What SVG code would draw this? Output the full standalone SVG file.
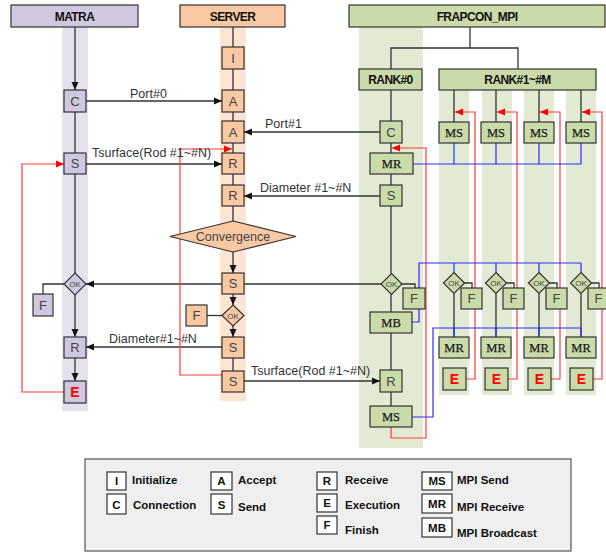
<svg xmlns="http://www.w3.org/2000/svg" width="606" height="554" viewBox="0 0 606 554">
<defs>
<marker id="ah" markerWidth="8" markerHeight="8" refX="8" refY="4" orient="auto" markerUnits="userSpaceOnUse"><path d="M0,0.5 L8,4 L0,7.5 z" fill="#111"/></marker>
<marker id="ahr" markerWidth="8" markerHeight="8" refX="8" refY="4" orient="auto" markerUnits="userSpaceOnUse"><path d="M0,0.5 L8,4 L0,7.5 z" fill="#f00"/></marker>
<style>
.ln{fill:none;stroke:#333;stroke-width:1.3}
.ar{marker-end:url(#ah)}
.rd{fill:none;stroke:#ff3a3a;stroke-width:1.2}
.ra{marker-end:url(#ahr)}
.bl{fill:none;stroke:#2a2aff;stroke-width:1.2}
.pu{fill:#cfc8de;stroke:#333;stroke-width:1.2}
.pe{fill:#f9c9a4;stroke:#333;stroke-width:1.2}
.gr{fill:#cbdaa9;stroke:#333;stroke-width:1.2}
.wb{fill:#fff;stroke:#333;stroke-width:1.2}
.t{font-family:"Liberation Sans",Arial,sans-serif;font-size:13px;fill:#444;text-anchor:middle}
.ts{font-family:"Liberation Serif","Times New Roman",serif;font-size:12.5px;font-weight:normal;fill:#1a1a1a;text-anchor:middle;stroke:#1a1a1a;stroke-width:0.25}
.h{font-family:"Liberation Sans",Arial,sans-serif;font-weight:bold;font-size:12px;letter-spacing:-0.6px;text-anchor:middle;fill:#111}
.lb{font-family:"Liberation Sans",Arial,sans-serif;font-size:12.5px;fill:#333}
.ok{font-family:"Liberation Sans",Arial,sans-serif;font-size:8px;fill:#444;text-anchor:middle}
.e{font-family:"Liberation Sans",Arial,sans-serif;fill:#f00;font-weight:bold;font-size:14px;text-anchor:middle}
.lg{font-family:"Liberation Sans",Arial,sans-serif;font-weight:bold;font-size:11.5px;fill:#111}
.lgc{font-family:"Liberation Sans",Arial,sans-serif;font-weight:bold;font-size:11.5px;fill:#111;text-anchor:middle}
</style>
</defs>

<!-- column backgrounds -->
<rect x="62" y="27" width="26" height="384" fill="#e5e2ee"/>
<rect x="220" y="27" width="26" height="374" fill="#fde4d3"/>
<rect x="359" y="27" width="64" height="421" fill="#e3ead3"/>
<rect x="439" y="90" width="30" height="305" fill="#e3ead3"/>
<rect x="482" y="90" width="30" height="305" fill="#e3ead3"/>
<rect x="524" y="90" width="30" height="305" fill="#e3ead3"/>
<rect x="566" y="90" width="30" height="305" fill="#e3ead3"/>

<g id="connectors">
<!-- MATRA -->
<path class="ln ar" d="M75,27 V90"/>
<path class="ln" d="M75,112 V153"/>
<path class="ln" d="M75,174 V273"/>
<path class="ln ar" d="M75,295 V337"/>
<path class="ln ar" d="M75,358 V381"/>
<path class="ln" d="M64,284 H43 V294"/>
<!-- SERVER -->
<path class="ln" d="M233,27 V47 M233,69 V90 M233,112 V121 M233,143 V153 M233,174 V185 M233,206 V221"/>
<path class="ln ar" d="M233,252 V273"/>
<path class="ln ar" d="M233,294 V305"/>
<path class="ln ar" d="M233,326 V337"/>
<path class="ln" d="M233,358 V371"/>
<path class="ln" d="M207,315.5 H222"/>
<!-- cross messages -->
<path class="ln ar" d="M86,101 H222"/>
<path class="ln ar" d="M86,164 H222"/>
<path class="ln ar" d="M380,132 H244"/>
<path class="ln ar" d="M380,196 H244"/>
<path class="ln ar" d="M222,284 H86"/>
<path class="ln" d="M244,284 H381"/>
<path class="ln ar" d="M222,347 H86"/>
<path class="ln ar" d="M244,381 H380"/>
<!-- FRAPCON tree -->
<path class="ln" d="M470,27 V48 M391,69 V48 H518 V69"/>
<!-- RANK#0 -->
<path class="ln" d="M391,90 V121 M391,143 V153 M391,174 V185 M391,206 V273.5 M391,294.5 V312 M391,333 V370 M391,392 V406"/>
<path class="ln" d="M402,284 H415 V288"/>
<!-- sub ranks -->
<path class="ln" d="M454,90 V122 M496,90 V122 M539,90 V122 M581,90 V122"/>
<path class="ln" d="M454,293.5 V337 M496,293.5 V337 M539,293.5 V337 M581,293.5 V337"/>
<path class="ln" d="M464.5,283 H472 V288 M506.5,283 H514 V288 M549.5,283 H557 V288 M591.5,283 H599 V288"/>
<!-- red loops -->
<path class="rd ra" d="M64,392 H22 V164 H64"/>
<path class="rd ra" d="M222,375 H180 V149 H232"/>
<path class="rd ra" d="M391,427 V438 H426 V148 H392"/>
<path class="rd ra" d="M466,379 H475 V112 H455"/>
<path class="rd ra" d="M508,379 H517 V112 H497"/>
<path class="rd ra" d="M551,379 H560 V112 H540"/>
<path class="rd ra" d="M593,379 H602 V112 H582"/>
<!-- blue -->
<path class="bl" d="M413,164 H581 M454,143 V164 M496,143 V164 M539,143 V164 M581,143 V164"/>
<path class="bl" d="M412,322 H419 V263 H581 M454,263 V272.5 M496,263 V272.5 M539,263 V272.5 M581,263 V272.5"/>
<path class="bl" d="M412,417 H433 V328 H581 M454,328 V337 M496,328 V337 M539,328 V337 M581,328 V337"/>
<!-- labels -->
<text class="lb" x="130" y="98">Port#0</text>
<text class="lb" x="265" y="128">Port#1</text>
<text class="lb" x="92" y="157">Tsurface(Rod #1~#N)</text>
<text class="lb" x="260" y="192">Diameter #1~#N</text>
<text class="lb" x="109" y="343">Diameter#1~#N</text>
<text class="lb" x="251" y="375">Tsurface(Rod #1~#N)</text>
</g>

<!-- headers -->
<g id="h-matra"><rect class="pu" x="11" y="5" width="127" height="22"/><text class="h" x="74.5" y="20.5">MATRA</text></g>
<g id="h-server"><rect class="pe" x="180" y="5" width="105" height="22"/><text class="h" x="232.5" y="20.5">SERVER</text></g>
<g id="h-frapcon"><rect class="gr" x="349" y="5" width="256" height="22"/><text class="h" x="477" y="20.5">FRAPCON_MPI</text></g>
<g id="h-rank0"><rect class="gr" x="359" y="69" width="63" height="21"/><text class="h" x="390.5" y="84">RANK#0</text></g>
<g id="h-rank1m"><rect class="gr" x="439" y="69" width="157" height="21"/><text class="h" x="517.5" y="84">RANK#1~#M</text></g>

<!-- MATRA nodes -->
<g id="m-c"><rect class="pu" x="64" y="90" width="22" height="22"/><text class="t" x="75" y="105.5">C</text></g>
<g id="m-s"><rect class="pu" x="64" y="153" width="22" height="21"/><text class="t" x="75" y="168">S</text></g>
<g id="m-ok"><path class="pu" d="M75,273 L86,284 L75,295 L64,284 z"/><text class="ok" x="75" y="287">OK</text></g>
<g id="m-f"><rect class="pu" x="33" y="294" width="20" height="22"/><text class="t" x="43" y="309.5">F</text></g>
<g id="m-r"><rect class="pu" x="64" y="337" width="22" height="21"/><text class="t" x="75" y="352">R</text></g>
<g id="m-e"><rect class="pu" x="64" y="381" width="22" height="22"/><text class="e" x="75" y="397">E</text></g>

<!-- SERVER nodes -->
<g id="s-i"><rect class="pe" x="222" y="47" width="22" height="22"/><text class="t" x="233" y="62.5">I</text></g>
<g id="s-a1"><rect class="pe" x="222" y="90" width="22" height="22"/><text class="t" x="233" y="105.5">A</text></g>
<g id="s-a2"><rect class="pe" x="222" y="121" width="22" height="22"/><text class="t" x="233" y="136.5">A</text></g>
<g id="s-r1"><rect class="pe" x="222" y="153" width="22" height="21"/><text class="t" x="233" y="168">R</text></g>
<g id="s-r2"><rect class="pe" x="222" y="185" width="22" height="21"/><text class="t" x="233" y="200">R</text></g>
<g id="s-conv"><path class="pe" d="M233,221 L296,236.5 L233,252 L170,236.5 z"/><text class="t" x="233" y="241" style="font-size:12.5px">Convergence</text></g>
<g id="s-s1"><rect class="pe" x="222" y="273" width="22" height="21"/><text class="t" x="233" y="288">S</text></g>
<g id="s-ok"><path class="pe" d="M233,305 L244,315.5 L233,326 L222,315.5 z"/><text class="ok" x="233" y="318.5">OK</text></g>
<g id="s-f"><rect class="pe" x="186" y="305" width="21" height="21"/><text class="t" x="196.5" y="320">F</text></g>
<g id="s-s2"><rect class="pe" x="222" y="337" width="22" height="21"/><text class="t" x="233" y="352">S</text></g>
<g id="s-s3"><rect class="pe" x="222" y="371" width="22" height="21"/><text class="t" x="233" y="386">S</text></g>

<!-- RANK#0 nodes -->
<g id="r0-c"><rect class="gr" x="380" y="121" width="22" height="22"/><text class="t" x="391" y="136.5">C</text></g>
<g id="r0-mr"><rect class="gr" x="370" y="153" width="43" height="21"/><text class="ts" x="391.5" y="168">MR</text></g>
<g id="r0-s"><rect class="gr" x="380" y="185" width="22" height="21"/><text class="t" x="391" y="200">S</text></g>
<g id="r0-ok"><path class="gr" d="M391.5,273.5 L402,284 L391.5,294.5 L381,284 z"/><text class="ok" x="391.5" y="287">OK</text></g>
<g id="r0-f"><rect class="gr" x="403" y="288" width="22" height="21"/><text class="t" x="414" y="303">F</text></g>
<g id="r0-mb"><rect class="gr" x="370" y="312" width="42" height="21"/><text class="ts" x="391" y="327">MB</text></g>
<g id="r0-r"><rect class="gr" x="380" y="370" width="22" height="22"/><text class="t" x="391" y="385.5">R</text></g>
<g id="r0-ms"><rect class="gr" x="370" y="406" width="42" height="21"/><text class="ts" x="391" y="421">MS</text></g>

<!-- sub rank nodes -->
<g id="r1-ms"><rect class="gr" x="439" y="122" width="30" height="21"/><text class="ts" x="454" y="137">MS</text></g>
<g id="r2-ms"><rect class="gr" x="481" y="122" width="30" height="21"/><text class="ts" x="496" y="137">MS</text></g>
<g id="r3-ms"><rect class="gr" x="524" y="122" width="30" height="21"/><text class="ts" x="539" y="137">MS</text></g>
<g id="r4-ms"><rect class="gr" x="566" y="122" width="30" height="21"/><text class="ts" x="581" y="137">MS</text></g>

<g id="r1-ok"><path class="gr" d="M454,272.5 L464.5,283 L454,293.5 L443.5,283 z"/><text class="ok" x="454" y="286">OK</text></g>
<g id="r2-ok"><path class="gr" d="M496,272.5 L506.5,283 L496,293.5 L485.5,283 z"/><text class="ok" x="496" y="286">OK</text></g>
<g id="r3-ok"><path class="gr" d="M539,272.5 L549.5,283 L539,293.5 L528.5,283 z"/><text class="ok" x="539" y="286">OK</text></g>
<g id="r4-ok"><path class="gr" d="M581,272.5 L591.5,283 L581,293.5 L570.5,283 z"/><text class="ok" x="581" y="286">OK</text></g>

<g id="r1-f"><rect class="gr" x="461" y="288" width="21" height="21"/><text class="t" x="471.5" y="303">F</text></g>
<g id="r2-f"><rect class="gr" x="503" y="288" width="21" height="21"/><text class="t" x="513.5" y="303">F</text></g>
<g id="r3-f"><rect class="gr" x="546" y="288" width="21" height="21"/><text class="t" x="556.5" y="303">F</text></g>
<g id="r4-f"><rect class="gr" x="588" y="288" width="21" height="21"/><text class="t" x="598.5" y="303">F</text></g>

<g id="r1-mr"><rect class="gr" x="439" y="337" width="30" height="21"/><text class="ts" x="454" y="352">MR</text></g>
<g id="r2-mr"><rect class="gr" x="481" y="337" width="30" height="21"/><text class="ts" x="496" y="352">MR</text></g>
<g id="r3-mr"><rect class="gr" x="524" y="337" width="30" height="21"/><text class="ts" x="539" y="352">MR</text></g>
<g id="r4-mr"><rect class="gr" x="566" y="337" width="30" height="21"/><text class="ts" x="581" y="352">MR</text></g>

<g id="r1-e"><rect class="gr" x="443" y="368" width="23" height="22"/><text class="e" x="454.5" y="384">E</text></g>
<g id="r2-e"><rect class="gr" x="485" y="368" width="23" height="22"/><text class="e" x="496.5" y="384">E</text></g>
<g id="r3-e"><rect class="gr" x="528" y="368" width="23" height="22"/><text class="e" x="539.5" y="384">E</text></g>
<g id="r4-e"><rect class="gr" x="570" y="368" width="23" height="22"/><text class="e" x="581.5" y="384">E</text></g>

<!-- legend -->
<g id="legend">
<rect x="85" y="459" width="486" height="92" fill="#efefef" stroke="#555" stroke-width="1.2"/>
<rect class="wb" x="107" y="472" width="19" height="18"/><text class="lgc" x="116.5" y="485">I</text><text class="lg" x="132" y="484">Initialize</text>
<rect class="wb" x="107" y="494" width="19" height="20"/><text class="lgc" x="116.5" y="508.5">C</text><text class="lg" x="133" y="509">Connection</text>
<rect class="wb" x="211" y="472" width="21" height="18"/><text class="lgc" x="221.5" y="485">A</text><text class="lg" x="238" y="484">Accept</text>
<rect class="wb" x="211" y="494" width="21" height="20"/><text class="lgc" x="221.5" y="508.5">S</text><text class="lg" x="238" y="511">Send</text>
<rect class="wb" x="317" y="472" width="20" height="18"/><text class="lgc" x="327" y="485">R</text><text class="lg" x="345" y="484">Receive</text>
<rect class="wb" x="317" y="494" width="20" height="18"/><text class="lgc" x="327" y="507">E</text><text class="lg" x="345" y="509">Execution</text>
<rect class="wb" x="317" y="516" width="20" height="18"/><text class="lgc" x="327" y="529">F</text><text class="lg" x="345" y="534">Finish</text>
<rect class="wb" x="422" y="472" width="30" height="18"/><text class="lgc" x="437" y="485">MS</text><text class="lg" x="457" y="484">MPI Send</text>
<rect class="wb" x="422" y="494" width="30" height="19"/><text class="lgc" x="437" y="508">MR</text><text class="lg" x="457" y="511">MPI Receive</text>
<rect class="wb" x="422" y="518" width="30" height="19"/><text class="lgc" x="437" y="532">MB</text><text class="lg" x="457" y="537">MPI Broadcast</text>
</g>
</svg>
